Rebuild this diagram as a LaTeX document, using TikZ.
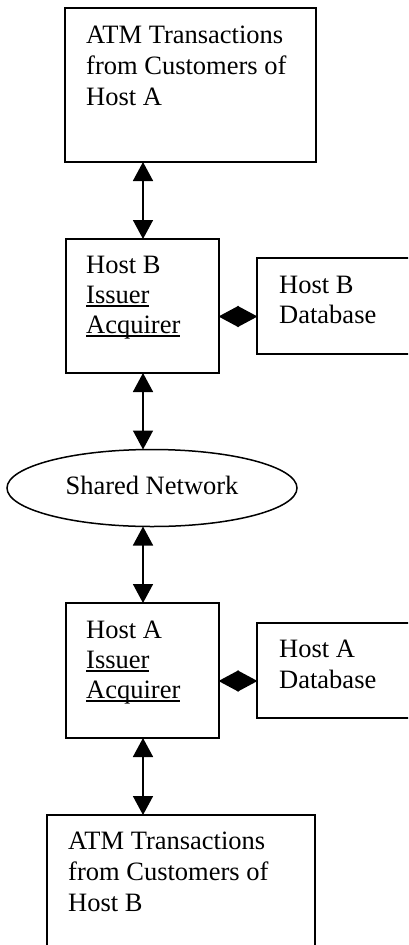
\documentclass[tikz,border=0pt]{standalone}
\usepackage{fontspec}
\setmainfont{Liberation Serif}
\usetikzlibrary{arrows.meta,shapes.geometric}
\newcommand{\myul}[1]{\leavevmode\setbox0\hbox{#1}\rlap{\rule[-3.8pt]{\wd0}{1.4pt}}\box0}
\tikzset{
  box/.style={draw, line width=1.7pt, inner sep=0pt, outer sep=0pt},
  lbl/.style={anchor=base west, inner sep=0pt, font=\fontsize{26.5pt}{31pt}\selectfont},
  biarrow/.style={line width=1.6pt, {Triangle[width=20pt,length=19pt]}-{Triangle[width=20pt,length=19pt]}},
  dia/.style={line width=1.6pt, shorten <=-0.5pt, shorten >=-0.5pt, {Triangle[width=21pt,length=20pt]}-{Triangle[width=21pt,length=20pt]}}
}
\begin{document}
\begin{tikzpicture}[x=1pt,y=-1pt]
\useasboundingbox (0,0) rectangle (408,945);
\clip (0,0) rectangle (408,945);
\fill[white] (0,0) rectangle (408,945);

% boxes
\node[box, minimum width=251pt, minimum height=154pt] (top) at (190.5,85) {};
\node[box, minimum width=153pt, minimum height=134pt] (hb) at (142.5,306) {};
\node[box, minimum width=163pt, minimum height=96pt] (hbdb) at (338.5,306) {};
\node[box, ellipse, line width=1.5pt, minimum width=290pt, minimum height=77pt] (sn) at (152,488) {};
\node[box, minimum width=153pt, minimum height=135pt] (ha) at (142.5,670.5) {};
\node[box, minimum width=163pt, minimum height=95pt] (hadb) at (338.5,670.5) {};
\node[box, minimum width=268pt, minimum height=150pt] (bot) at (181,890) {};

% texts
\node[lbl] (t1) at (86,43) {ATM Transactions};
\node[lbl] (t2) at (86,74) {from Customers of};
\node[lbl] (t3) at (86,105) {Host A};

\node[lbl] (hb1) at (86,273) {Host B};
\node[lbl] (hb2) at (86,303) {\myul{Issuer}};
\node[lbl] (hb3) at (86,333) {\myul{Acquirer}};

\node[lbl] (hbd1) at (279,293) {Host B};
\node[lbl] (hbd2) at (279,323) {Database};

\node[lbl, anchor=base] (snt) at (152,494) {Shared Network};

\node[lbl] (ha1) at (86,638) {Host A};
\node[lbl] (ha2) at (86,668) {\myul{Issuer}};
\node[lbl] (ha3) at (86,698) {\myul{Acquirer}};

\node[lbl] (had1) at (279,657) {Host A};
\node[lbl] (had2) at (279,688) {Database};

\node[lbl] (b1) at (68,849) {ATM Transactions};
\node[lbl] (b2) at (68,880) {from Customers of};
\node[lbl] (b3) at (68,911) {Host B};

% connectors
\coordinate (ax) at (143,0);
\coordinate (d1) at (0,316.5);
\coordinate (d2) at (0,681);
\draw[biarrow] (top.south -| ax) -- (hb.north -| ax);
\draw[biarrow] (hb.south -| ax) -- (sn.north -| ax);
\draw[biarrow] (sn.south -| ax) -- (ha.north -| ax);
\draw[biarrow] (ha.south -| ax) -- (bot.north -| ax);
\draw[dia] (d1 -| hb.east) -- (d1 -| hbdb.west);
\draw[dia] (d2 -| ha.east) -- (d2 -| hadb.west);
\end{tikzpicture}
\end{document}
